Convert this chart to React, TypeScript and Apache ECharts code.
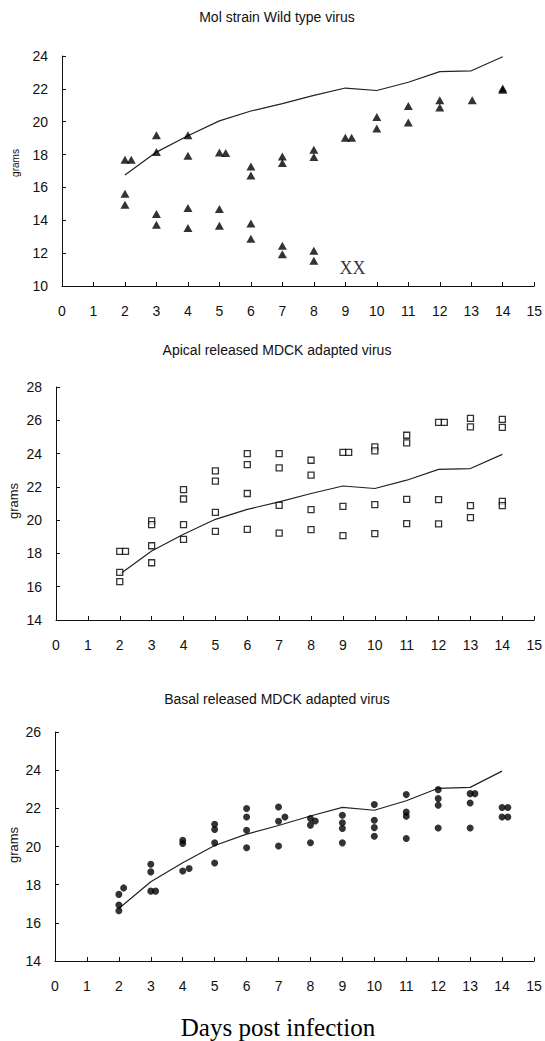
import React, { useEffect, useRef } from "react";
import * as echarts from "echarts";

// Shared control (mock) mean weight curve
const days = [2, 3, 4, 5, 6, 7, 8, 9, 10, 11, 12, 13, 14];
const controlWeights = [16.75, 18.15, 19.15, 20.05, 20.65, 21.1, 21.6, 22.05, 21.9, 22.4, 23.05, 23.1, 23.95];

// Panel 1: Mol strain wild type virus (triangles)
const wildDays = [2, 2.2, 2, 2, 3, 3, 3, 3, 4, 4, 4, 4, 5, 5.2, 5, 5, 6, 6, 6, 6, 7, 7, 7, 7, 8, 8, 8, 8, 9, 9.2, 10, 10, 11, 11, 12, 12, 13.03, 14, 14];
const wildWeights = [17.68, 17.68, 15.61, 14.95, 19.17, 18.15, 14.38, 13.73, 19.17, 17.93, 14.75, 13.53, 18.13, 18.1, 14.69, 13.67, 17.28, 16.73, 13.81, 12.88, 17.89, 17.48, 12.45, 11.94, 18.3, 17.85, 12.14, 11.53, 19.03, 19.03, 20.29, 19.58, 20.96, 19.95, 21.31, 20.86, 21.31, 22.02, 21.95];

// Panel 2: Apical released MDCK adapted virus (open squares)
const apicalDays = [2, 2.18, 2, 2, 3, 3, 3, 3, 4, 4, 4, 4, 5, 5, 5, 5, 6, 6, 6, 6, 7, 7, 7, 7, 8, 8, 8, 8, 9, 9.18, 9, 9, 10, 10, 10, 10, 11, 11, 11, 11, 12, 12.18, 12, 12, 13, 13, 13, 13, 14, 14, 14, 14];
const apicalWeights = [18.12, 18.12, 16.86, 16.3, 19.95, 19.73, 18.46, 17.44, 21.83, 21.27, 19.73, 18.84, 22.96, 22.34, 20.47, 19.33, 24.0, 23.34, 21.6, 19.45, 24.0, 23.14, 20.89, 19.22, 23.6, 22.7, 20.63, 19.43, 24.07, 24.07, 20.83, 19.07, 24.4, 24.16, 20.93, 19.19, 25.1, 24.64, 21.25, 19.79, 25.87, 25.87, 21.23, 19.77, 26.11, 25.6, 20.87, 20.15, 26.05, 25.57, 21.13, 20.87];

// Panel 3: Basal released MDCK adapted virus (filled circles)
const basalDays = [2, 2.15, 2, 2, 3, 3, 3, 3.15, 4, 4, 4, 4.2, 5, 5, 5, 5, 6, 6, 6, 6, 7, 7, 7.2, 7, 8, 8, 8.15, 8, 9, 9, 9, 9, 10, 10, 10, 10, 11, 11, 11, 11, 12, 12, 12, 12, 13, 13.15, 13, 13, 14, 14.18, 14, 14.18];
const basalWeights = [17.49, 17.83, 16.93, 16.63, 19.07, 18.67, 17.66, 17.66, 20.33, 20.16, 18.72, 18.85, 21.17, 20.89, 20.19, 19.14, 21.99, 21.55, 20.85, 19.93, 22.07, 21.32, 21.55, 20.03, 21.47, 21.12, 21.34, 20.2, 21.64, 21.24, 20.94, 20.19, 22.2, 21.38, 20.99, 20.54, 22.72, 21.8, 21.59, 20.42, 22.98, 22.51, 22.16, 20.97, 22.77, 22.77, 22.28, 20.97, 22.04, 22.04, 21.55, 21.55];

const xTicksMin = 0;
const xTicksMax = 15;
const panelTitles = ["Mol strain Wild type virus", "Apical released MDCK adapted virus", "Basal released MDCK adapted virus"];
const yRanges = [[10, 24], [14, 28], [14, 26]];
const deathMark = { day: 9.23, weight: 11.1, label: "XX" };

const zip = (xs: number[], ys: number[]) => xs.map((x, i) => [x, ys[i]]);

export default function App() {
  const ref = useRef<HTMLDivElement>(null);
  useEffect(() => {
    if (!ref.current) return;
    const chart = echarts.init(ref.current, null, { renderer: "svg" });
    const grids = [
      { left: 62, width: 475, top: 56, height: 230 },
      { left: 56, width: 479, top: 387, height: 233 },
      { left: 55, width: 479, top: 732, height: 229 },
    ];
    const font = "Liberation Sans, Arial, sans-serif";
    const xAxes = grids.map((_, i) => ({
      type: "value",
      gridIndex: i,
      min: xTicksMin,
      max: xTicksMax,
      interval: 1,
      axisLine: { show: true, lineStyle: { color: "#111", width: 1 } },
      axisTick: { show: true, inside: true, length: 4, lineStyle: { color: "#111" } },
      axisLabel: { margin: 18, fontSize: 14, color: "#111", fontFamily: font },
      splitLine: { show: false },
    }));
    const yAxes = grids.map((_, i) => ({
      type: "value",
      gridIndex: i,
      min: yRanges[i][0],
      max: yRanges[i][1],
      interval: 2,
      axisLine: { show: true, lineStyle: { color: "#111", width: 1 } },
      axisTick: { show: true, inside: true, length: 4, lineStyle: { color: "#111" } },
      axisLabel: { margin: 14, fontSize: 14, color: "#111", fontFamily: font },
      splitLine: { show: false },
    }));
    const controlData = zip(days, controlWeights);
    const lineSeries = [0, 1, 2].map((i) => ({
      type: "line",
      xAxisIndex: i,
      yAxisIndex: i,
      data: controlData,
      symbol: "none",
      lineStyle: { color: "#222", width: 1.2 },
      z: 1,
    }));
    const option: any = {
      animation: false,
      backgroundColor: "#fff",
      grid: grids,
      xAxis: xAxes,
      yAxis: yAxes,
      series: [
        ...lineSeries,
        {
          type: "scatter",
          xAxisIndex: 0,
          yAxisIndex: 0,
          data: zip(wildDays, wildWeights),
          symbol: "triangle",
          symbolSize: [9, 8],
          itemStyle: { color: "#000" },
          z: 3,
        },
        {
          type: "scatter",
          xAxisIndex: 0,
          yAxisIndex: 0,
          data: [[deathMark.day, deathMark.weight]],
          symbolSize: 0,
          label: {
            show: true,
            position: "inside",
            formatter: deathMark.label,
            fontFamily: "Liberation Serif, Times New Roman, serif",
            fontSize: 18,
            color: "#000",
          },
        },
        {
          type: "scatter",
          xAxisIndex: 1,
          yAxisIndex: 1,
          data: zip(apicalDays, apicalWeights),
          symbol: "rect",
          symbolSize: 6,
          itemStyle: { color: "#fff", borderColor: "#000", borderWidth: 1.3 },
          z: 3,
        },
        {
          type: "scatter",
          xAxisIndex: 2,
          yAxisIndex: 2,
          data: zip(basalDays, basalWeights),
          symbol: "circle",
          symbolSize: 7,
          itemStyle: { color: "#000" },
          z: 3,
        },
      ],
      graphic: [
        ...panelTitles.map((t, i) => ({
          type: "text",
          x: 277,
          y: [17, 350, 699][i],
          style: {
            text: t,
            textAlign: "center",
            textVerticalAlign: "middle",
            font: "14px Liberation Sans, Arial, sans-serif",
            fill: "#111",
          },
        })),
        ...[
          { x: 15, y: 163, size: 10 },
          { x: 13, y: 501, size: 13 },
          { x: 13, y: 845, size: 13 },
        ].map((g) => ({
          type: "text",
          x: g.x,
          y: g.y,
          rotation: Math.PI / 2,
          style: {
            text: "grams",
            textAlign: "center",
            textVerticalAlign: "middle",
            font: `${g.size}px Liberation Sans, Arial, sans-serif`,
            fill: "#111",
          },
        })),
        {
          type: "text",
          x: 278,
          y: 1027,
          style: {
            text: "Days post infection",
            textAlign: "center",
            textVerticalAlign: "middle",
            font: "25px Liberation Serif, Times New Roman, serif",
            fill: "#000",
          },
        },
      ],
    };
    chart.setOption(option);
    return () => chart.dispose();
  }, []);
  return (
    <div
      ref={ref}
      style={{ position: "absolute", left: 0, top: 0, width: 545, height: 1041, background: "#fff" }}
    />
  );
}
